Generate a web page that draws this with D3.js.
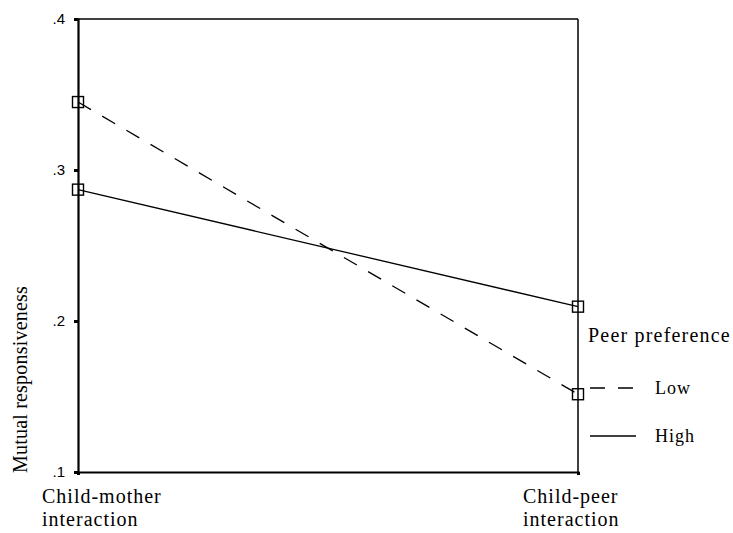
<!DOCTYPE html>
<html><head><meta charset="utf-8">
<script src="https://cdn.jsdelivr.net/npm/d3@7"></script>
<style>body{margin:0;background:#fff}</style>
</head><body>
<svg id="c" width="733" height="533"></svg>
<script>
const categories = ["Child-mother interaction", "Child-peer interaction"];
const categoryLines = [["Child-mother", "interaction"], ["Child-peer", "interaction"]];
const lowValues = [0.345, 0.1515];
const highValues = [0.287, 0.2095];
const seriesNames = ["Low", "High"];
const yTicks = [0.1, 0.2, 0.3, 0.4];
const yTickLabels = [".1", ".2", ".3", ".4"];
const yTitle = "Mutual responsiveness";
const legendTitle = "Peer preference";

const svg = d3.select("#c");
const x = d3.scalePoint().domain(categories).range([78, 578]);
const y = d3.scaleLinear().domain([0.1, 0.4]).range([472, 19]);
const serif = "'Liberation Serif','Times New Roman',serif";

// frame (top & right)
svg.append("line").attr("x1", 78).attr("x2", 578).attr("y1", y(0.4)).attr("y2", y(0.4))
  .attr("stroke", "#000").attr("stroke-width", 1.5);
svg.append("line").attr("x1", 578).attr("x2", 578).attr("y1", y(0.4)).attr("y2", y(0.1))
  .attr("stroke", "#000").attr("stroke-width", 1.5);

// left axis
const yAxis = svg.append("g").attr("transform", "translate(78,0)")
  .call(d3.axisLeft(y).tickValues(yTicks).tickFormat((d, i) => yTickLabels[i]).tickSize(4).tickPadding(9));
yAxis.select(".domain").attr("stroke-width", 2.2);
yAxis.selectAll(".tick line").attr("stroke-width", 3);
yAxis.selectAll("text").attr("font-family", "'Liberation Sans',Arial,sans-serif").attr("font-size", 15).attr("fill", "#000");

// bottom axis
const xAxis = svg.append("g").attr("transform", "translate(0,472)")
  .call(d3.axisBottom(x).tickSize(3).tickFormat(""));
xAxis.select(".domain").attr("stroke-width", 2.2);
xAxis.selectAll(".tick line").attr("stroke-width", 3);

// category labels
const labelX = [42, 523];
categories.forEach((c, i) => {
  const t = svg.append("text").attr("x", labelX[i]).attr("y", 503)
    .attr("font-family", serif).attr("font-size", 20).attr("letter-spacing", 1).attr("fill", "#000");
  categoryLines[i].forEach((ln, j) => {
    t.append("tspan").attr("x", labelX[i]).attr("dy", j === 0 ? 0 : 23).text(ln);
  });
});

// y title
svg.append("text").attr("transform", `translate(27,${y(0.1)+1}) rotate(-90)`)
  .attr("font-family", serif).attr("font-size", 20).attr("letter-spacing", 0.2).attr("fill", "#000")
  .text(yTitle);

// series
const series = [
  {name: seriesNames[0], values: lowValues, dash: "15,13"},
  {name: seriesNames[1], values: highValues, dash: null}
];
const line = d3.line().x((d, i) => x(categories[i])).y(d => y(d));
series.forEach(s => {
  svg.append("path").datum(s.values).attr("d", line).attr("fill", "none")
    .attr("stroke", "#000").attr("stroke-width", 1.3)
    .attr("stroke-dasharray", s.dash);
  svg.selectAll(null).data(s.values).enter().append("rect")
    .attr("x", (d, i) => x(categories[i]) - 5.5).attr("y", d => y(d) - 5.5)
    .attr("width", 11).attr("height", 11)
    .attr("fill", "none").attr("stroke", "#000").attr("stroke-width", 1.4);
});

// legend
svg.append("text").attr("x", 588).attr("y", 342).attr("font-family", serif).attr("font-size", 20)
  .attr("letter-spacing", 1.2).attr("fill", "#000").text(legendTitle);
const legY = [388, 436];
series.forEach((s, i) => {
  svg.append("line").attr("x1", 590).attr("x2", 636).attr("y1", legY[i]).attr("y2", legY[i])
    .attr("stroke", "#000").attr("stroke-width", 1.3).attr("stroke-dasharray", s.dash);
  svg.append("text").attr("x", 655).attr("y", legY[i] + 6).attr("font-family", serif).attr("font-size", 18)
    .attr("letter-spacing", 1).attr("fill", "#000").text(s.name);
});
</script>
</body></html>
